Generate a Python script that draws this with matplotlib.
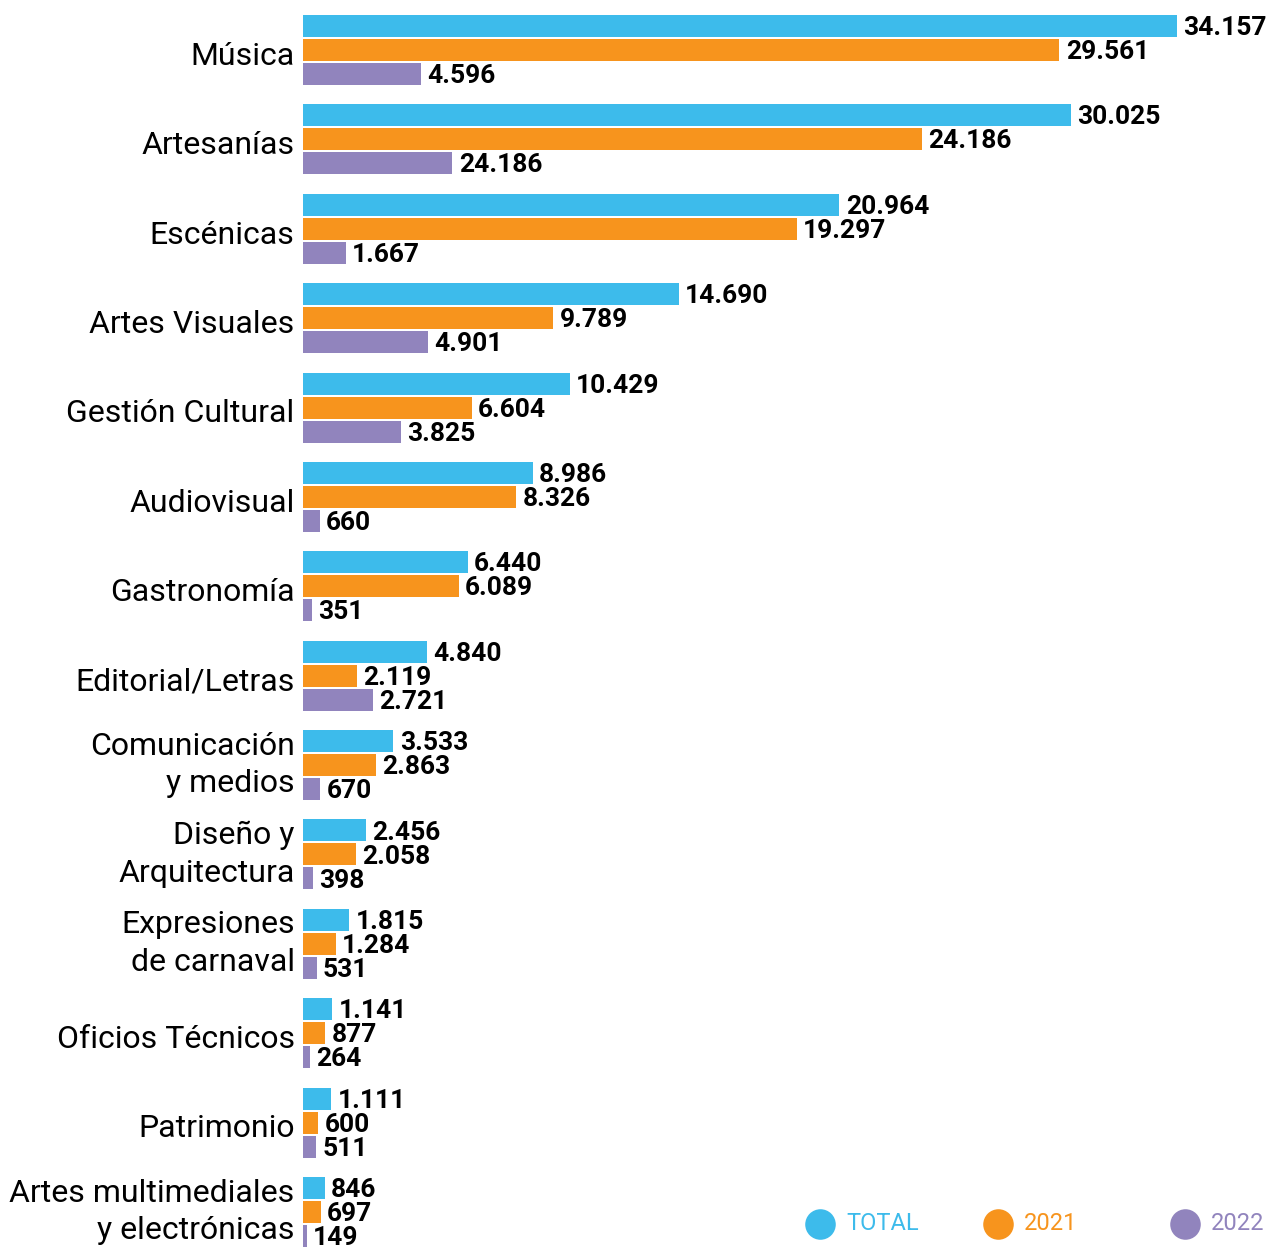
'''
Grouped horizontal bars: cultural sectors, TOTAL / 2021 / 2022
'''

import numpy as np
import matplotlib.pyplot as plt
from matplotlib.lines import Line2D

plt.rcParams['font.family'] = ['Roboto', 'DejaVu Sans']

# Data
categorias = ['Música', 'Artesanías', 'Escénicas', 'Artes Visuales',
              'Gestión Cultural', 'Audiovisual', 'Gastronomía',
              'Editorial/Letras', 'Comunicación\ny medios', 'Diseño y\nArquitectura',
              'Expresiones\nde carnaval', 'Oficios Técnicos', 'Patrimonio',
              'Artes multimediales\ny electrónicas']
total = [34157, 30025, 20964, 14690, 10429, 8986, 6440, 4840, 3533, 2456, 1815, 1141, 1111, 846]
v2021 = [29561, 24186, 19297, 9789, 6604, 8326, 6089, 2119, 2863, 2058, 1284, 877, 600, 697]
v2022 = [4596, 5839, 1667, 4901, 3825, 660, 351, 2721, 670, 398, 531, 264, 511, 149]
series_names = ['TOTAL', '2021', '2022']
colores = ['#3DBBEB', '#F7941D', '#9184BD']


def fmt(v):
    return f'{v:,}'.replace(',', '.')


etiquetas = [[fmt(v) for v in s] for s in (total, v2021, v2022)]
etiquetas[2][1] = '24.186'  # label as printed in the source

# Figure
fig = plt.figure(figsize=(12.68, 12.52), dpi=100)
ax = fig.add_axes([303 / 1268, 0, 965 / 1268, 1])

y = np.arange(len(categorias))
paso = 24 / 89.4
alto = 22 / 89.4

for k, (serie, col) in enumerate(zip((total, v2021, v2022), colores)):
    yy = y + (k - 1) * paso
    ax.barh(yy, serie, height=alto, color=col, edgecolor='none')
    for yi, v, lab in zip(yy, serie, etiquetas[k]):
        ax.annotate(lab, (v, yi), xytext=(4.5, -1.5), textcoords='offset points',
                    ha='left', va='center', fontsize=19, fontweight='bold',
                    color='black')

for yi, cat in zip(y, categorias):
    dy = 0.07 if '\n' not in cat else 0.0
    ax.annotate(cat, (0, yi + dy), xytext=(-6, 0), textcoords='offset points',
                ha='right', va='center', fontsize=23, color='black',
                linespacing=1.38, annotation_clip=False)

ax.set_xlim(0, 34157 * 965 / 874)
ax.set_ylim(13 + 40 / 89.4, -50 / 89.4)
ax.axis('off')

# Legend
leg_x = [820, 998, 1185]
leg_y = 1 - 1224 / 1252
for name, col, xp in zip(series_names, colores, leg_x):
    fig.add_artist(Line2D([xp / 1268], [leg_y], marker='o', markersize=22,
                          color=col, markeredgecolor='none',
                          transform=fig.transFigure))
    fig.text((xp + 26) / 1268, leg_y, name, color=col, fontsize=17,
             fontweight='normal', va='center', ha='left')

fig.savefig('out.png', dpi=100)
